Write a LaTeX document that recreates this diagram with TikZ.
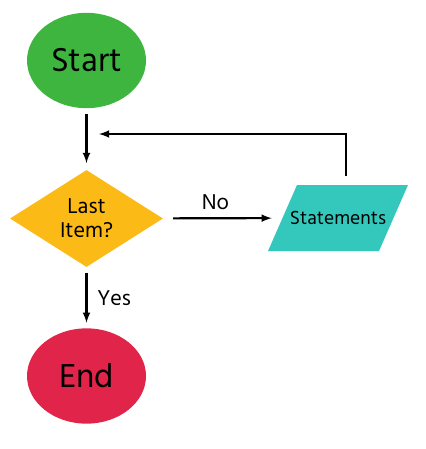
\documentclass[tikz,border=0pt]{standalone}
\usepackage{fontspec}
\setmainfont{Hind Siliguri}
\usepackage{tikz}
\usetikzlibrary{shapes.geometric}
\usetikzlibrary{arrows}
\definecolor{startgreen}{RGB}{62,181,62}
\definecolor{itemyellow}{RGB}{252,186,22}
\definecolor{stmtteal}{RGB}{52,199,188}
\definecolor{endred}{RGB}{224,36,74}

\begin{document}
\begin{tikzpicture}[x=0.75pt, y=-0.75pt, >=latex,
    terminal/.style={ellipse, minimum width=89.25pt, minimum height=71.5pt, inner sep=0pt, font=\fontsize{25.5}{28}\selectfont},
    decision/.style={diamond, fill=itemyellow, minimum width=114.75pt, minimum height=72.75pt, aspect=1.58, inner sep=0pt, align=center, font=\fontsize{16.5}{19}\selectfont},
    process/.style={rectangle, minimum width=105pt, minimum height=49.5pt, inner sep=0pt, font=\fontsize{14.6}{17}\selectfont,
        path picture={\fill[stmtteal] (path picture bounding box.south west) -- ([xshift=-21.75pt]path picture bounding box.south east)
            -- (path picture bounding box.north east) -- ([xshift=21.75pt]path picture bounding box.north west) -- cycle;}},
    flow/.style={->, line width=1.6pt},
    lbl/.style={font=\fontsize{16.5}{19}\selectfont}]
    \useasboundingbox (0,0) rectangle (425,449);
    \node[terminal, fill=startgreen] (start) at (86.5,60.5) {Start};
    \node[decision] (item) at (86.5,218.5) {Last\\[-1pt]Item?};
    \node[process] (stmt) at (338,218) {Statements};
    \node[terminal, fill=endred] (end) at (86.5,376) {End};
    \coordinate (join) at (99,134);
    \coordinate (corner) at (346,134);
    \draw[flow, shorten <=4.5pt, shorten >=5pt] (start) -- (item);
    \draw[flow, shorten <=7.5pt, shorten >=-3pt] (item) -- (stmt) node[lbl, midway, above=2pt] {No};
    \draw[flow, shorten <=4pt, shorten >=4pt] (item) -- (end) node[lbl, midway, right=4pt] {Yes};
    \draw[flow, shorten <=6.75pt] (stmt.north -| corner) -- (corner) -- (join);
\end{tikzpicture}
\end{document}
